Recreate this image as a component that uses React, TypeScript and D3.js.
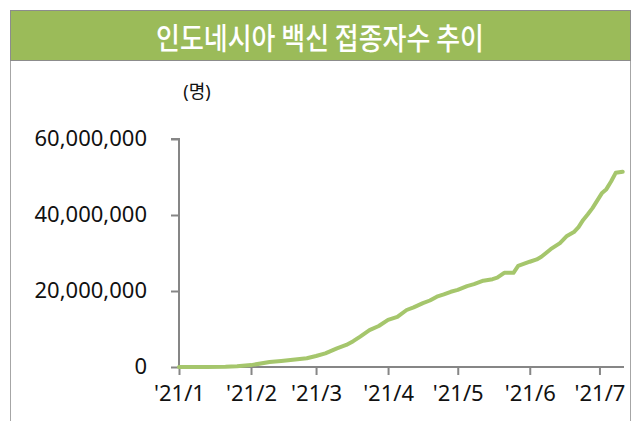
import React, { useEffect, useRef } from "react";
import * as d3 from "d3";

const TITLE = "인도네시아 백신 접종자수 추이";
const UNIT = "(명)";

const dates = [
  "2021-01-01", "2021-01-13", "2021-01-21", "2021-01-26", "2021-02-01", "2021-02-09", "2021-02-14",
  "2021-02-20", "2021-02-25", "2021-03-01", "2021-03-05", "2021-03-10", "2021-03-14", "2021-03-17",
  "2021-03-20", "2021-03-24", "2021-03-28", "2021-04-01", "2021-04-05", "2021-04-09", "2021-04-12",
  "2021-04-16", "2021-04-19", "2021-04-22", "2021-04-25", "2021-04-28", "2021-05-01", "2021-05-05",
  "2021-05-08", "2021-05-12", "2021-05-16", "2021-05-18", "2021-05-21", "2021-05-25", "2021-05-27",
  "2021-06-01", "2021-06-04", "2021-06-06", "2021-06-10", "2021-06-14", "2021-06-17", "2021-06-20",
  "2021-06-22", "2021-06-24", "2021-06-26", "2021-06-28", "2021-07-02", "2021-07-04", "2021-07-06",
  "2021-07-08", "2021-07-11",
];
const vaccinated = [
  0, 0, 50000, 200000, 500000, 1300000, 1600000,
  2000000, 2300000, 2900000, 3600000, 4900000, 5800000, 6800000,
  8000000, 9700000, 10800000, 12400000, 13200000, 15000000, 15700000,
  16800000, 17500000, 18500000, 19100000, 19800000, 20300000, 21300000,
  21800000, 22700000, 23100000, 23500000, 24800000, 24800000, 26600000,
  27700000, 28300000, 29000000, 31000000, 32600000, 34500000, 35500000,
  36800000, 38700000, 40200000, 41800000, 45700000, 46800000, 48800000,
  51100000, 51400000,
];
const yTicks = [0, 20000000, 40000000, 60000000];
const xTickDates = ["2021-01-01", "2021-02-01", "2021-03-01", "2021-04-01", "2021-05-01", "2021-06-01", "2021-07-01"];
const xDomain = ["2021-01-01", "2021-07-12"];

const GREEN = "#9bbb59";
const LINE = "#a5c66c";
const AXIS = "#868686";
const FONT = "'Noto Sans', 'Noto Sans CJK KR', sans-serif";

export default function App() {
  const ref = useRef<SVGSVGElement | null>(null);

  useEffect(() => {
    const svg = d3.select(ref.current);
    svg.selectAll("*").remove();
    const parse = d3.utcParse("%Y-%m-%d");
    const data = dates.map((d, i) => ({ date: parse(d) as Date, value: vaccinated[i] }));

    const x = d3.scaleUtc().domain(xDomain.map((d) => parse(d) as Date)).range([179, 625]);
    const y = d3.scaleLinear().domain([0, 60000000]).range([367, 139]);

    // frame
    svg.append("rect").attr("x", 10.5).attr("y", 10.5).attr("width", 620).attr("height", 430)
      .attr("fill", "#fff").attr("stroke", "#a6a6a6").attr("stroke-width", 1);
    svg.append("rect").attr("x", 10.5).attr("y", 10.5).attr("width", 620).attr("height", 50)
      .attr("fill", GREEN).attr("stroke", "#8c8c8c").attr("stroke-width", 1);
    svg.append("text").attr("x", 320).attr("y", 36).attr("text-anchor", "middle")
      .attr("dominant-baseline", "central").attr("fill", "#fff")
      .attr("font-family", "'Noto Sans CJK KR', sans-serif").attr("font-size", 30).attr("font-weight", 500)
      .attr("textLength", 328).attr("lengthAdjust", "spacingAndGlyphs")
      .text(TITLE);

    svg.append("text").attr("x", 197).attr("y", 91).attr("text-anchor", "middle")
      .attr("dominant-baseline", "central").attr("fill", "#111")
      .attr("font-family", FONT).attr("font-size", 18).text(UNIT);

    // y axis
    const yAxis = d3.axisLeft(y).tickValues(yTicks).tickSize(8).tickPadding(24)
      .tickFormat((d) => d3.format(",")(d as number));
    const gy = svg.append("g").attr("transform", "translate(179,0)").call(yAxis);
    gy.select(".domain").attr("stroke", AXIS).attr("stroke-width", 2).attr("d", `M-8,${y(60000000)}H0V${y(0)}`);
    gy.selectAll(".tick line").attr("stroke", AXIS).attr("stroke-width", 2);
    gy.selectAll(".tick text").attr("font-family", FONT).attr("font-size", 22).attr("fill", "#111").attr("dy", "0.3em");

    // x axis
    const xAxis = d3.axisBottom(x).tickValues(xTickDates.map((d) => parse(d) as Date)).tickSize(8).tickPadding(10)
      .tickFormat((d) => "'" + d3.utcFormat("%y/%-m")(d as Date));
    const gx = svg.append("g").attr("transform", "translate(0,367)").call(xAxis);
    gx.select(".domain").attr("stroke", AXIS).attr("stroke-width", 2).attr("d", `M179,0H624`);
    gx.selectAll(".tick line").attr("stroke", AXIS).attr("stroke-width", 2);
    gx.selectAll(".tick text").attr("font-family", FONT).attr("font-size", 22).attr("fill", "#111");

    const line = d3.line<{ date: Date; value: number }>().x((d) => x(d.date)).y((d) => y(d.value));
    svg.append("path").datum(data).attr("d", line).attr("fill", "none").attr("stroke", LINE)
      .attr("stroke-width", 4).attr("stroke-linecap", "round").attr("stroke-linejoin", "round");
  }, []);

  return (
    <svg ref={ref} width={633} height={421}
      style={{ position: "absolute", left: 0, top: 0, display: "block", background: "#fff" }} />
  );
}
